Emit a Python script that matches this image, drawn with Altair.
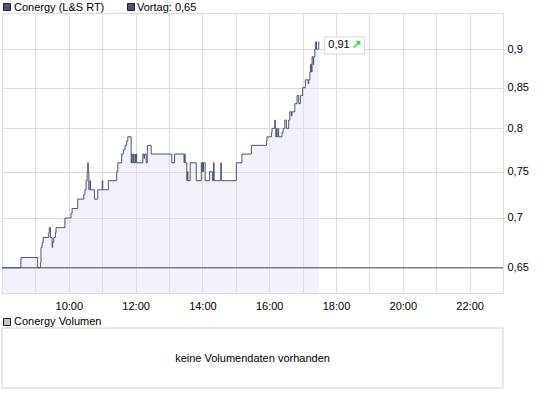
import altair as alt
import pandas as pd

# ---- data ----
times = ["08:00", "08:34", "09:04", "09:09", "09:10", "09:12", "09:14", "09:24", "09:25", "09:27",
         "09:30", "09:31", "09:33", "09:36", "09:37", "09:53", "10:04", "10:06", "10:16", "10:27",
         "10:29", "10:31", "10:33", "10:34", "10:35", "10:36", "10:38", "10:39", "10:46", "10:52",
         "11:00", "11:01", "11:11", "11:26", "11:28", "11:35", "11:38", "11:41", "11:44", "11:46",
         "11:52", "11:53", "11:54", "11:56", "11:57", "11:59", "12:00", "12:01", "12:02", "12:13",
         "12:15", "12:16", "12:19", "12:21", "12:28", "13:05", "13:10", "13:27", "13:28", "13:29",
         "13:32", "13:33", "13:34", "13:38", "13:49", "13:58", "13:59", "14:00", "14:01", "14:02",
         "14:05", "14:13", "14:18", "14:20", "14:21", "14:33", "14:34", "15:01", "15:11", "15:28",
         "15:55", "15:56", "16:04", "16:05", "16:10", "16:11", "16:12", "16:13", "16:14", "16:16",
         "16:17", "16:23", "16:25", "16:28", "16:31", "16:35", "16:37", "16:40", "16:41", "16:46",
         "16:50", "16:53", "16:56", "17:00", "17:05", "17:10", "17:11", "17:13", "17:14", "17:16",
         "17:17", "17:19", "17:20", "17:22", "17:23", "17:25", "17:28", "17:29", "17:30"]
prices = [0.65, 0.66, 0.65, 0.655, 0.67, 0.675, 0.68, 0.685, 0.69, 0.68,
          0.67, 0.675, 0.68, 0.685, 0.69, 0.70, 0.705, 0.71, 0.72, 0.725,
          0.73, 0.74, 0.75, 0.76, 0.75, 0.73, 0.74, 0.73, 0.72, 0.73,
          0.74, 0.73, 0.74, 0.75, 0.76, 0.77, 0.775, 0.78, 0.785, 0.79,
          0.76, 0.77, 0.76, 0.77, 0.76, 0.77, 0.76, 0.77, 0.76, 0.77,
          0.765, 0.77, 0.76, 0.78, 0.77, 0.76, 0.77, 0.76, 0.77, 0.76,
          0.74, 0.75, 0.74, 0.76, 0.74, 0.76, 0.75, 0.76, 0.75, 0.76,
          0.74, 0.75, 0.74, 0.76, 0.74, 0.76, 0.74, 0.76, 0.77, 0.78,
          0.785, 0.79, 0.795, 0.80, 0.81, 0.80, 0.79, 0.80, 0.79, 0.80,
          0.79, 0.795, 0.80, 0.81, 0.80, 0.81, 0.82, 0.815, 0.82, 0.83,
          0.84, 0.83, 0.84, 0.85, 0.86, 0.855, 0.86, 0.87, 0.88, 0.87,
          0.89, 0.88, 0.89, 0.90, 0.91, 0.90, 0.90, 0.91, 0.91]
prev_close = [0.65]
y_ticks = [0.65, 0.7, 0.75, 0.8, 0.85, 0.9]
x_ticks = [9, 10, 11, 12, 13, 14, 15, 16, 17, 18, 19, 20, 21, 22]
series_label = ["Conergy (L&S RT)"]
prev_label = ["Vortag: 0,65"]
volume_label = ["Conergy Volumen"]
volume_msg = ["keine Volumendaten vorhanden"]
last_label = ["0,91"]
arrow = ["\u2197"]

Y_MIN, Y_MAX = 0.626, 0.95
FONT = "Liberation Sans"
LINE = "#4b5574"

hours = [int(t[:2]) + int(t[3:]) / 60 for t in times]
df = pd.DataFrame({"h": hours, "p": prices, "base": Y_MIN})
last = df.tail(1)

xs = alt.Scale(domain=[8, 23], nice=False, zero=False)
ys = alt.Scale(type="log", domain=[Y_MIN, Y_MAX], nice=False, zero=False)

x_axis = alt.Axis(values=x_ticks, tickCount=40, title=None, grid=True, gridColor="#dddddd",
                  ticks=False, domain=False, labelFont=FONT, labelFontSize=11,
                  labelColor="#000000", labelPadding=7, labelOverlap=False,
                  labelBound=False, labelFlush=False,
                  labelExpr="datum.value % 2 == 0 ? datum.value + ':00' : ''")
y_axis = alt.Axis(orient="right", values=y_ticks, tickCount=40, title=None, grid=True,
                  gridColor="#dddddd", ticks=False, domain=False, labelFont=FONT,
                  labelFontSize=11, labelColor="#000000", labelPadding=4, labelOverlap=False,
                  labelExpr="replace(format(datum.value, '.2~f'), '.', ',')")

area = alt.Chart(df).mark_area(interpolate="step-after", color="#dfe2f2", opacity=0.4).encode(
    x=alt.X("h:Q", scale=xs, axis=x_axis),
    y=alt.Y("p:Q", scale=ys, axis=y_axis),
    y2="base:Q",
)
line = alt.Chart(df).mark_line(interpolate="step-after", color=LINE, strokeWidth=1).encode(
    x=alt.X("h:Q", scale=xs), y=alt.Y("p:Q", scale=ys)
)
rule = alt.Chart(pd.DataFrame({"v": prev_close})).mark_rule(color="#4a5272", strokeWidth=1).encode(
    y=alt.Y("v:Q", scale=ys)
)

box = alt.Chart(last).mark_rect(fill="white", stroke="#d8d8d8", strokeWidth=1,
                                xOffset=5, x2Offset=45, yOffset=-5, y2Offset=12).encode(
    x=alt.X("h:Q", scale=xs), x2="h:Q", y=alt.Y("p:Q", scale=ys), y2="p:Q"
)
lbl_df = last.assign(t=last_label, a=arrow)
lbl = alt.Chart(lbl_df).mark_text(align="left", baseline="middle", dx=9, dy=3.5,
                                  font=FONT, fontSize=11, color="#000000").encode(
    x=alt.X("h:Q", scale=xs), y=alt.Y("p:Q", scale=ys), text="t:N"
)
arr = alt.Chart(lbl_df).mark_text(align="left", baseline="middle", dx=32, dy=3.5,
                                  font="DejaVu Sans", fontSize=12, fontWeight="bold",
                                  color="#22dd22").encode(
    x=alt.X("h:Q", scale=xs), y=alt.Y("p:Q", scale=ys), text="a:N"
)

one = alt.Data(values=[{}])

def square(x0, y0, fill):
    return alt.Chart(one).mark_rect(fill=fill, stroke="#222222", strokeWidth=1).encode(
        x=alt.value(x0), x2=alt.value(x0 + 7), y=alt.value(y0), y2=alt.value(y0 + 7))

def label(txt, x0, y0, align="left", baseline="alphabetic"):
    return alt.Chart(pd.DataFrame({"t": txt})).mark_text(
        align=align, baseline=baseline, font=FONT, fontSize=11, color="#000000").encode(
        x=alt.value(x0), y=alt.value(y0), text="t:N")

vol_box = alt.Chart(one).mark_rect(fill="white", stroke="#d0d0d0", strokeWidth=1).encode(
    x=alt.value(0), x2=alt.value(501), y=alt.value(315), y2=alt.value(375))

chart = alt.layer(
    area, rule, line, box, lbl, arr,
    square(1.5, -9.5, "#4d5573"), label(series_label, 12, -2),
    square(125.5, -9.5, "#4d5573"), label(prev_label, 135, -2),
    square(1.5, 305.5, "#c4c4c4"), label(volume_label, 12, 312),
    vol_box, label(volume_msg, 250.5, 346, align="center", baseline="middle"),
).properties(
    width=501, height=280,
    autosize=alt.AutoSizeParams(type="none"),
    padding={"left": 2, "top": 13, "right": 42, "bottom": 102},
).configure_view(stroke="#cccccc").configure(background="white")

chart.save("out.html", embed_options={"renderer": "svg", "actions": False})
